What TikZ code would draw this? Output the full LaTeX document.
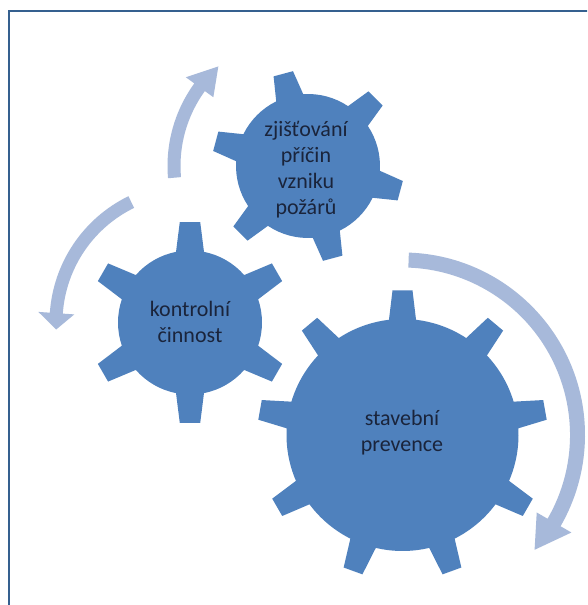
\documentclass[tikz,border=0pt]{standalone}
\usepackage{fontspec}
\setmainfont{Carlito}
\definecolor{gearblue}{HTML}{4F81BD}
\definecolor{arrowblue}{HTML}{A7B9DA}
\definecolor{textdark}{HTML}{1A243B}
\definecolor{framecol}{HTML}{35608F}
\tikzset{
  gearfill/.style={fill=gearblue},
  arrowfill/.style={fill=arrowblue},
  gtext/.style={align=center, text=textdark, inner sep=0pt, font=\fontsize{22}{26}\selectfont},
  framebox/.style={draw=framecol, line width=2.5pt}
}
% #1 centre, #2 teeth, #3 first tooth angle, #4 tip radius, #5 root radius, #6 tip half angle, #7 root half angle
\newcommand\mygear[7]{%
  \begin{scope}[shift={(#1)}]
    \pgfmathsetmacro\gstep{360/#2}
    \pgfmathsetmacro\gspan{360/#2-2*#7}
    \fill[gearfill] ({#3-#7}:#5pt)
      \foreach \k in {1,...,#2}{
        -- ({#3+(\k-1)*\gstep-#6}:#4pt)
        -- ({#3+(\k-1)*\gstep+#6}:#4pt)
        -- ({#3+(\k-1)*\gstep+#7}:#5pt)
        arc[start angle={#3+(\k-1)*\gstep+#7}, delta angle=\gspan, radius=#5pt]
      } -- cycle;
  \end{scope}}
% #1 centre, #2 mid radius, #3 half width, #4 start angle, #5 shaft end angle, #6 head half width, #7 tip angle
\newcommand\circarrow[7]{%
  \begin{scope}[shift={(#1)}]
    \pgfmathsetmacro\aro{#2+#3}
    \pgfmathsetmacro\ari{#2-#3}
    \pgfmathsetmacro\aho{#2+#6}
    \pgfmathsetmacro\ahi{#2-#6}
    \fill[arrowfill] (#4:\aro pt) arc[start angle=#4, end angle=#5, radius=\aro pt]
      -- (#5:\aho pt) -- (#7:#2pt) -- (#5:\ahi pt) -- (#5:\ari pt)
      arc[start angle=#5, end angle=#4, radius=\ari pt] -- cycle;
  \end{scope}}
\begin{document}
\begin{tikzpicture}[x=1pt,y=1pt]
  \useasboundingbox (0,0) rectangle (587,605);
  \clip (0,0) rectangle (587,605);
  \fill[white] (0,0) rectangle (587,605);
  \draw[framebox] (9,-5) -- (9,594) -- (595,594);

  \coordinate (g1) at (402.5,170);
  \coordinate (g2) at (190,282.5);
  \coordinate (g3) at (308,439);

  % circular arrows
  \circarrow{g1}{175}{7.5}{88}{-30}{20}{-41}
  \circarrow{g2}{134}{6.5}{116}{176}{18}{183}
  \circarrow{g3}{134}{6.5}{185}{144}{17}{132}

  % gears
  \mygear{g1}{9}{90}{145}{116}{3.95}{6.7}
  \mygear{g2}{6}{90}{101}{72}{5.8}{11.2}
  \mygear{g3}{6}{105}{96}{72}{6.0}{11.2}

  % labels
  \node[gtext] (t1) at (402,172) {stavební\\prevence};
  \node[gtext] (t2) at (190,283) {kontrolní\\činnost};
  \node[gtext] (t3) at (306,435) {zjišťování\\příčin\\vzniku\\požárů};
\end{tikzpicture}
\end{document}
